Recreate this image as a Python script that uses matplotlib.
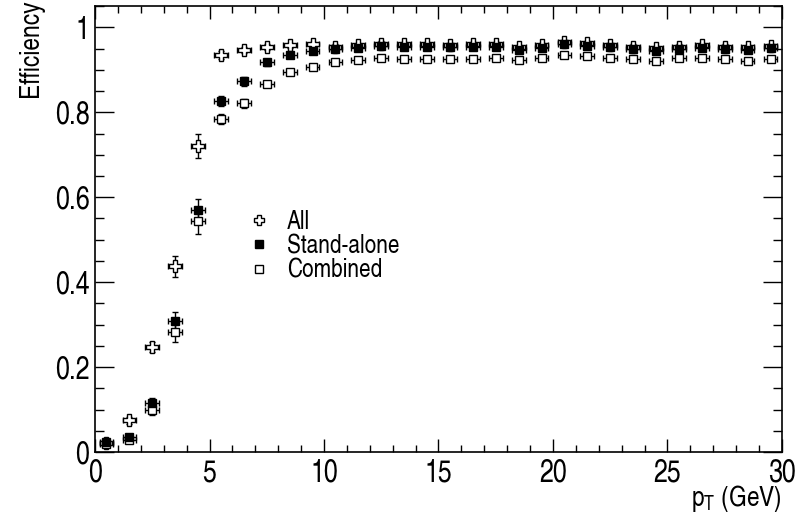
import numpy as np
import matplotlib.pyplot as plt
from matplotlib.lines import Line2D
from matplotlib.ticker import MultipleLocator

plt.rcParams['font.family'] = ['TeX Gyre Heros Cn', 'Liberation Sans', 'DejaVu Sans']
plt.rcParams['mathtext.fontset'] = 'custom'
plt.rcParams['mathtext.rm'] = 'TeX Gyre Heros Cn'

# bin centres (GeV)
pt = np.arange(0.5, 30.0, 1.0)

eff_all = [0.022, 0.075, 0.247, 0.437, 0.721, 0.935, 0.947, 0.953, 0.958, 0.960,
           0.955, 0.958, 0.962, 0.960, 0.960, 0.959, 0.960, 0.960, 0.954, 0.958,
           0.966, 0.963, 0.959, 0.955, 0.951, 0.955, 0.958, 0.955, 0.953, 0.957]
err_all = [0.005, 0.008, 0.012, 0.024, 0.028, 0.010, 0.008, 0.007, 0.006, 0.006,
           0.005, 0.005, 0.005, 0.005, 0.005, 0.005, 0.005, 0.005, 0.005, 0.005,
           0.005, 0.005, 0.005, 0.005, 0.005, 0.005, 0.005, 0.005, 0.005, 0.005]

eff_sa = [0.024, 0.035, 0.116, 0.308, 0.569, 0.827, 0.873, 0.918, 0.936, 0.945,
          0.949, 0.952, 0.957, 0.955, 0.955, 0.953, 0.955, 0.953, 0.947, 0.952,
          0.960, 0.957, 0.953, 0.949, 0.944, 0.949, 0.952, 0.949, 0.947, 0.952]
err_sa = [0.005, 0.006, 0.012, 0.021, 0.028, 0.012, 0.010, 0.008, 0.006, 0.006,
          0.006, 0.006, 0.006, 0.006, 0.006, 0.006, 0.006, 0.006, 0.006, 0.006,
          0.006, 0.006, 0.006, 0.006, 0.006, 0.006, 0.006, 0.006, 0.006, 0.006]

eff_comb = [0.018, 0.028, 0.098, 0.282, 0.544, 0.784, 0.821, 0.867, 0.896, 0.908,
            0.918, 0.924, 0.927, 0.926, 0.926, 0.926, 0.926, 0.929, 0.923, 0.929,
            0.936, 0.933, 0.929, 0.926, 0.920, 0.928, 0.929, 0.926, 0.922, 0.926]
err_comb = [0.005, 0.006, 0.012, 0.022, 0.030, 0.012, 0.010, 0.008, 0.007, 0.006,
            0.006, 0.006, 0.006, 0.006, 0.006, 0.006, 0.006, 0.006, 0.006, 0.006,
            0.006, 0.006, 0.006, 0.006, 0.006, 0.006, 0.006, 0.006, 0.006, 0.006]

labels = ['All', 'Stand-alone', 'Combined']

fig = plt.figure(figsize=(8.02, 5.18), dpi=100)
ax = fig.add_axes([0.1185, 0.1274, 0.8565, 0.8606])

ekw = dict(xerr=0.3, ecolor='k', elinewidth=1, capsize=2.5, capthick=1,
           linestyle='none', markeredgecolor='k', markeredgewidth=1)
ax.errorbar(pt, eff_all, yerr=err_all, marker='P', markersize=8,
            markerfacecolor='white', **ekw)
ax.errorbar(pt, eff_comb, yerr=err_comb, marker='s', markersize=6,
            markerfacecolor='white', **ekw)
ax.errorbar(pt, eff_sa, yerr=err_sa, marker='s', markersize=6,
            markerfacecolor='k', **ekw)

ax.set_xlim(0, 30)
ax.set_ylim(0, 1.05)
ax.xaxis.set_major_locator(MultipleLocator(5))
ax.xaxis.set_minor_locator(MultipleLocator(1))
ax.yaxis.set_minor_locator(MultipleLocator(0.05))
ax.set_yticks([0, 0.2, 0.4, 0.6, 0.8, 1.0])
ax.set_yticklabels(['0', '0.2', '0.4', '0.6', '0.8', '1'])

ax.tick_params(which='both', direction='in', top=True, right=True,
               labelsize=22, width=1)
ax.tick_params(axis='x', which='major', length=9.5, pad=5)
ax.tick_params(axis='x', which='minor', length=4.7)
ax.tick_params(axis='y', which='major', length=13.5, pad=4)
ax.tick_params(axis='y', which='minor', length=6.5)
for s in ax.spines.values():
    s.set_linewidth(1.2)

ax.set_xlabel(r'$\mathregular{p_{T}}$ (GeV)', fontsize=20, ha='right')
ax.xaxis.set_label_coords(1.0, -0.07)
ax.set_ylabel('Efficiency', fontsize=20, ha='right')
ax.yaxis.set_label_coords(-0.074, 1.015)

handles = [
    Line2D([], [], marker='P', markersize=7, markerfacecolor='white',
           markeredgecolor='k', linestyle='none'),
    Line2D([], [], marker='s', markersize=5.5, markerfacecolor='k',
           markeredgecolor='k', linestyle='none'),
    Line2D([], [], marker='s', markersize=5.5, markerfacecolor='white',
           markeredgecolor='k', linestyle='none'),
]
ax.legend(handles, labels, loc='upper left', bbox_to_anchor=(0.205, 0.572),
          frameon=False, fontsize=18.3, handlelength=0.85, handletextpad=0.65,
          labelspacing=0.02, borderpad=0)

fig.savefig('out.png', dpi=100)
